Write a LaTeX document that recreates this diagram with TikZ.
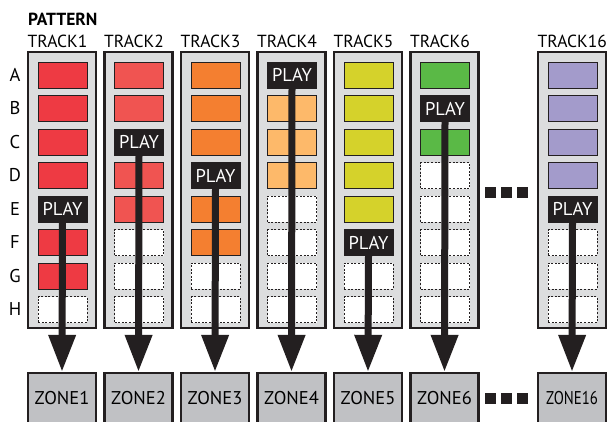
\documentclass[tikz,border=0pt]{standalone}
\usepackage{fontspec}
\setmainfont{PT Sans}
\usepackage{graphicx}
\usetikzlibrary{arrows.meta}

\definecolor{ink}{HTML}{231F20}
\definecolor{panelgray}{HTML}{DCDDDE}
\definecolor{zonegray}{HTML}{C0C1C4}
\definecolor{redA}{HTML}{EE3A43}
\definecolor{redB}{HTML}{F05451}
\definecolor{orangeA}{HTML}{F47F30}
\definecolor{orangeB}{HTML}{FDB96A}
\definecolor{yellowA}{HTML}{D5D22B}
\definecolor{greenA}{HTML}{5AB946}
\definecolor{lilacA}{HTML}{A39BCB}

\newcommand\lbl{\fontsize{17.5}{19}\selectfont}
\newcommand\zlbl{\fontsize{18.5}{20}\selectfont}

\tikzset{
  panel/.style={fill=panelgray,draw=ink,line width=2.4pt},
  cellbox/.style={draw=ink,line width=1pt,minimum width=49pt,minimum height=26pt,inner sep=0pt},
  emptybox/.style={fill=white,draw=ink,line width=0.9pt,dash pattern=on 2pt off 1.6pt,
    minimum width=49pt,minimum height=26pt,inner sep=0pt},
  playbox/.style={fill=ink,text=white,minimum width=50pt,minimum height=27pt,inner sep=0pt,font=\zlbl},
  zonebox/.style={fill=zonegray,draw=ink,line width=2.4pt,minimum width=68pt,minimum height=51pt,
    inner sep=0pt,font=\zlbl},
  dotsq/.style={fill=ink,minimum size=11pt,inner sep=0pt},
  flow/.style={draw=ink,line width=7pt,-{Triangle[width=26pt,length=37pt]}},
}

\begin{document}
\begin{tikzpicture}[x=1pt,y=-1pt]
  \useasboundingbox (0,0) rectangle (608,421);

  % Title and row letters
  \node[anchor=west,inner sep=0pt,font=\lbl\bfseries] (title) at (28,19.5) {PATTERN};
  \foreach \r/\n in {0/A,1/B,2/C,3/D,4/E,5/F,6/G,7/H}
    \node[font=\zlbl] (row\n) at (15,75+33.5*\r) {\n};

  % Tracks: number/left edge/colour/play row/first empty row
  \foreach \t/\x/\c/\p/\e in {1/28/redA/4/7, 2/104.5/redB/2/5, 3/181/orangeA/3/6,
      4/257.5/orangeB/0/4, 5/334/yellowA/5/6, 6/410.5/greenA/1/3, 16/538/lilacA/4/5}{
    \draw[panel] (\x,52) rectangle ++(68,276);
    \node[anchor=west,inner sep=0pt,font=\lbl] (track\t) at (\x-0.5,41.5) {TRACK\t};
    \foreach \r in {0,...,7}{
      \ifnum\r=\p
        \node[playbox] (play\t) at (\x+34.5,75+33.5*\r) {PLAY};
      \else\ifnum\r<\e
        \node[cellbox,fill=\c] (cell\t-\r) at (\x+34.5,75+33.5*\r) {};
      \else
        \node[emptybox] (cell\t-\r) at (\x+34.5,75+33.5*\r) {};
      \fi\fi
    }
    % Zone
    \node[zonebox] (zone\t) at (\x+34,398.5)
      {\ifnum\t=16 \scalebox{0.8}[1]{ZONE16}\else ZONE\t\fi};
    \draw[flow] (play\t.south) -- (zone\t.north);
  }

  % Gaps between track 6 and track 16
  \foreach \k in {0,1,2}{
    \node[dotsq] (gapT\k) at (490.5+16*\k,192.5) {};
    \node[dotsq] (gapZ\k) at (490.5+16*\k,398) {};
  }
\end{tikzpicture}
\end{document}
